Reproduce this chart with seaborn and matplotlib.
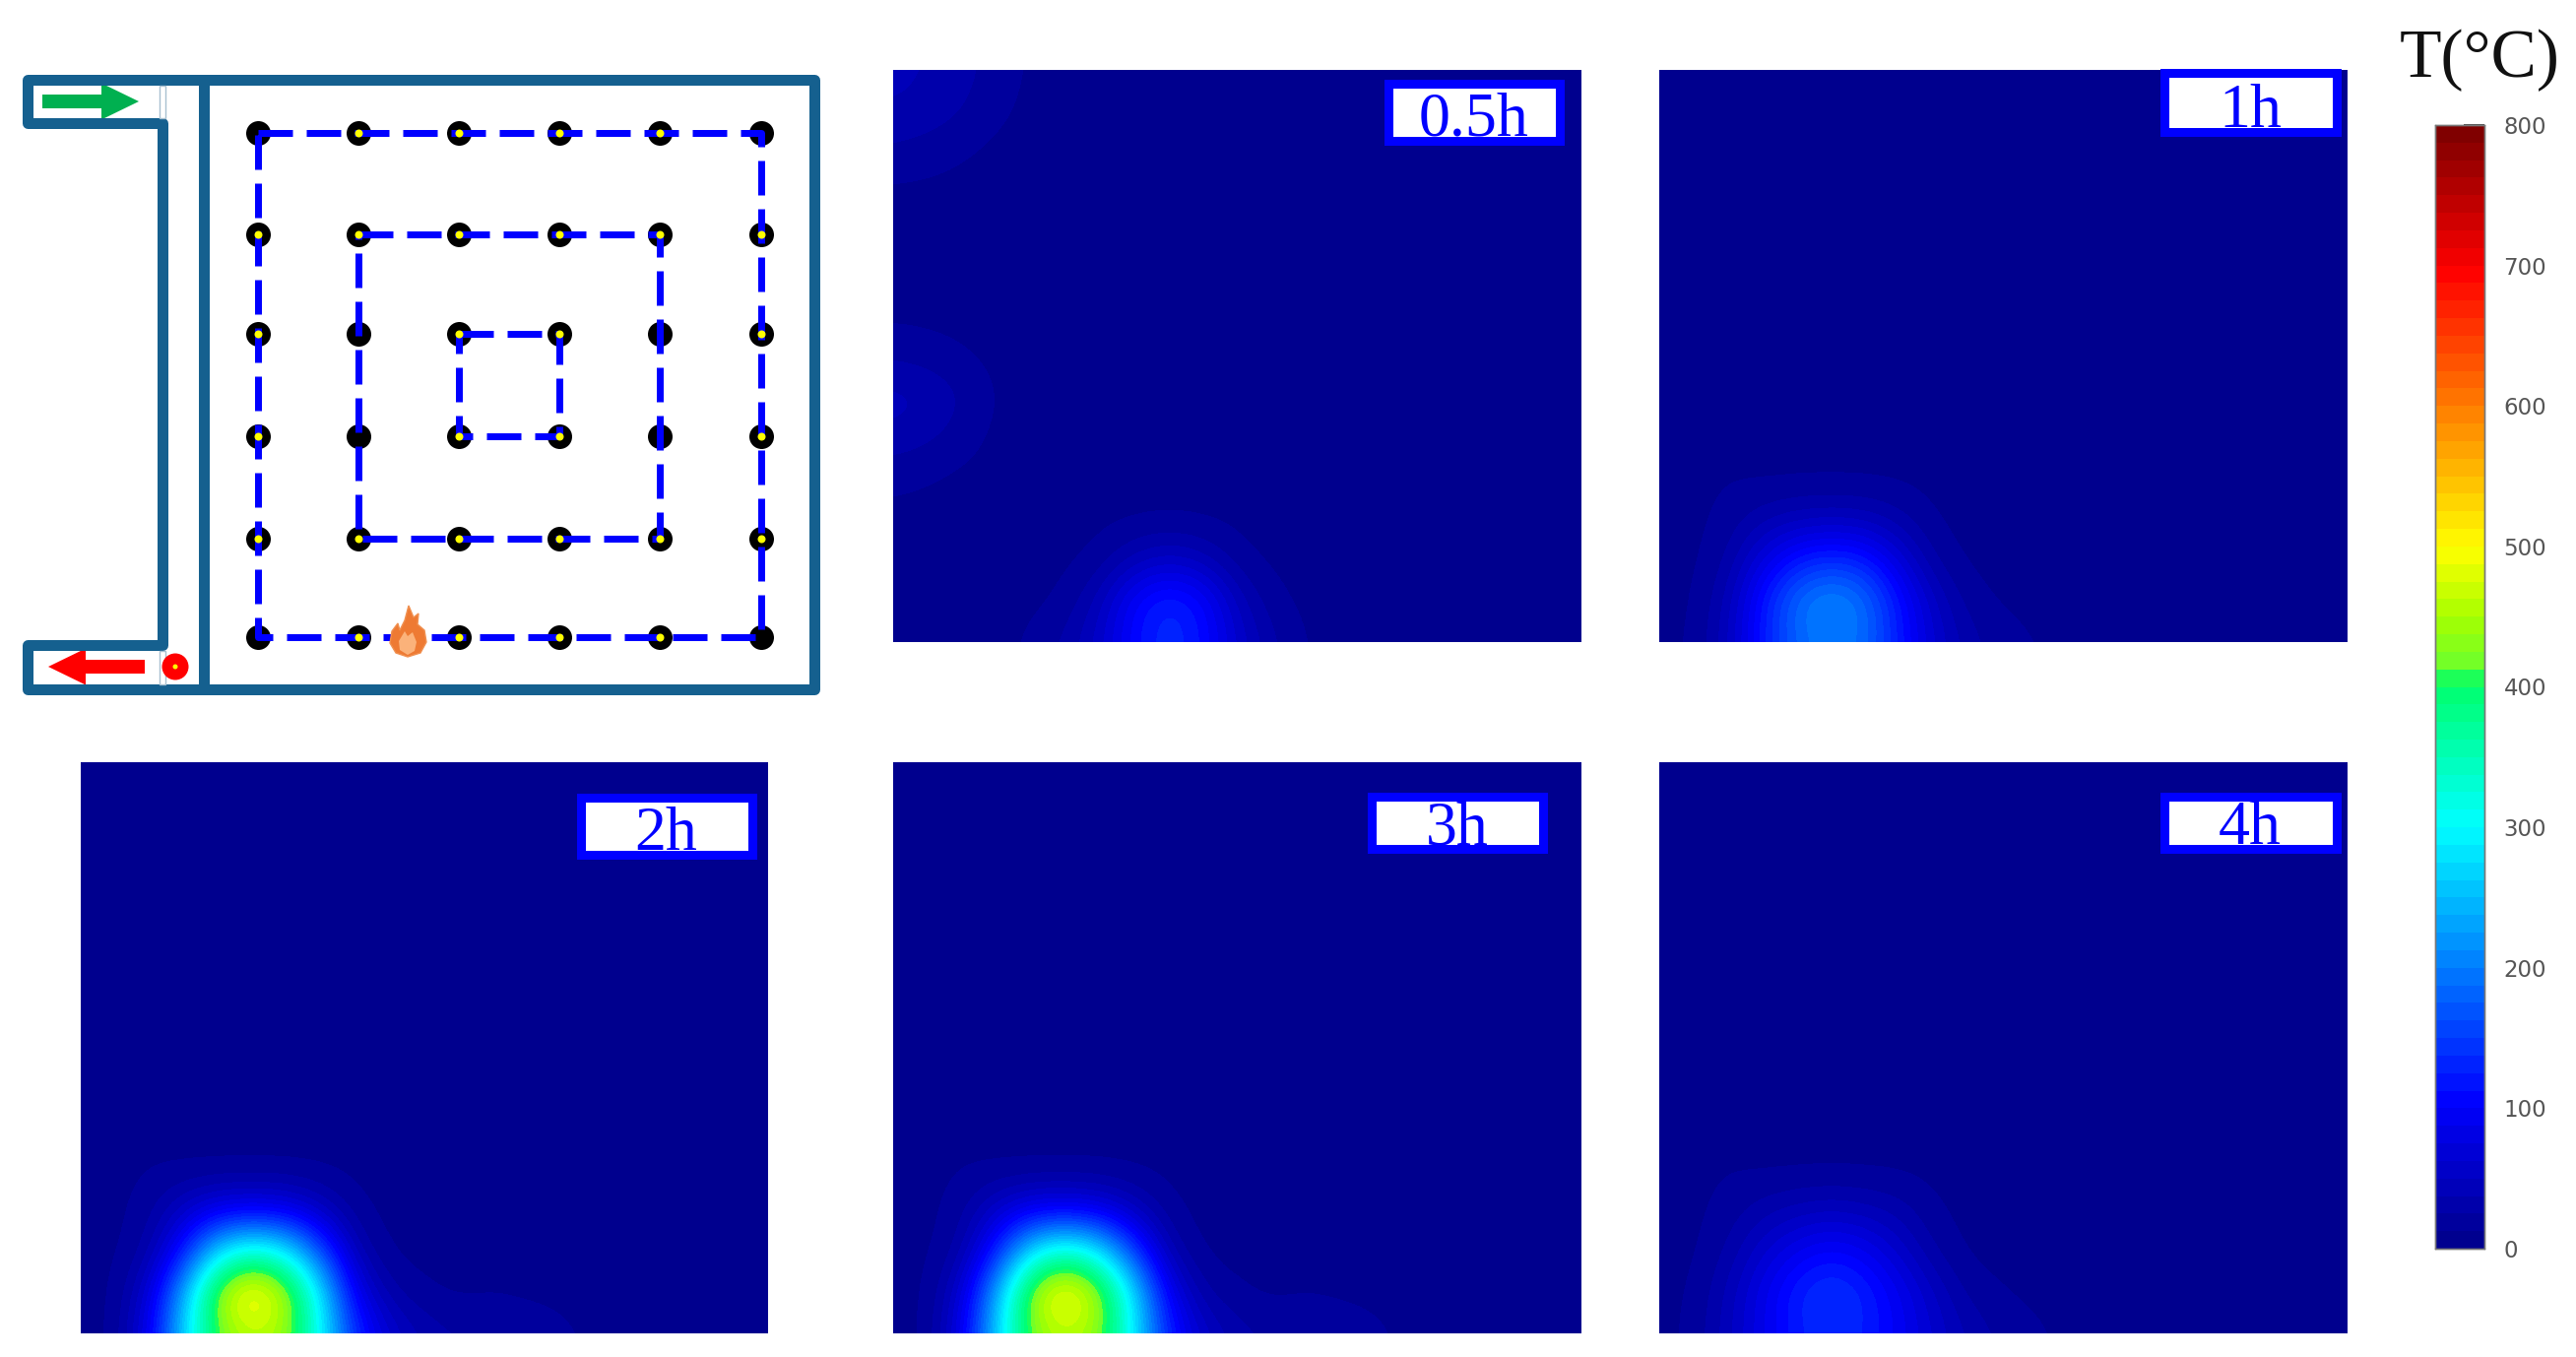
import numpy as np
import pandas as pd
import matplotlib
matplotlib.use("Agg")
import matplotlib.pyplot as plt
from matplotlib.colors import LinearSegmentedColormap
from matplotlib.patches import Rectangle, Ellipse, Polygon, FancyArrow
import seaborn as sns

W, H = 2616, 1378

# temperature, rows go from the bottom edge upwards, columns from the left
BACKGROUND = 9
rows_05h = [
    [9, 9, 9, 9, 14, 28, 55, 110, 138, 115, 60, 28, 11],
    [9, 9, 9, 9, 9, 14, 42, 105, 135, 110, 45, 16, 9],
    [9, 9, 9, 9, 9, 9, 15, 40, 55, 42, 16, 9, 9],
    [9, 9, 9, 9, 9, 9, 9, 9, 10, 9, 9, 9, 9],
]
# faint spots on the left side of the 0.5h panel, rows go from the top edge downwards
top_05h = [
    [40, 38, 30, 20, 10],
    [38, 34, 26, 15, 9],
    [22, 18, 13, 9, 9],
    [9, 9, 9, 9, 9],
    [9, 9, 9, 9, 9],
    [9, 9, 9, 9, 9],
    [9, 9, 9, 9, 9],
    [22, 18, 13, 9, 9],
    [45, 40, 26, 11, 9],
    [34, 28, 18, 9, 9],
    [15, 12, 9, 9, 9],
]
rows_1h = [
    [9, 12, 45, 120, 180, 200, 185, 120, 60, 30, 18, 12, 10],
    [9, 10, 38, 120, 190, 218, 190, 115, 50, 18, 10, 9, 9],
    [9, 9, 24, 75, 122, 140, 125, 70, 22, 9, 9, 9, 9],
    [9, 9, 16, 32, 42, 45, 42, 28, 11, 9, 9, 9, 9],
    [9, 9, 12, 9, 9, 9, 9, 9, 9, 9, 9, 9, 9],
]
rows_2h = [
    [9, 9, 85, 270, 420, 460, 440, 300, 135, 60, 35, 25, 25, 22, 15, 10],
    [9, 9, 62, 240, 455, 530, 460, 285, 85, 26, 13, 9, 11, 9, 9, 9],
    [9, 9, 25, 120, 280, 345, 295, 165, 35, 9, 9, 9, 9, 9, 9, 9],
    [9, 9, 18, 55, 86, 92, 85, 50, 14, 9, 9, 9, 9, 9, 9, 9],
    [9, 9, 12, 10, 9, 9, 9, 9, 9, 9, 9, 9, 9, 9, 9, 9],
]
rows_3h = [
    [9, 9, 80, 265, 425, 458, 435, 290, 128, 55, 32, 22, 25, 22, 15, 10],
    [9, 9, 60, 235, 452, 525, 455, 280, 90, 24, 13, 9, 11, 9, 9, 9],
    [9, 9, 25, 125, 285, 350, 290, 155, 33, 9, 9, 9, 9, 9, 9, 9],
    [9, 9, 18, 58, 90, 95, 85, 48, 14, 9, 9, 9, 9, 9, 9, 9],
    [9, 9, 12, 10, 9, 9, 9, 9, 9, 9, 9, 9, 9, 9, 9, 9],
]
rows_4h = [
    [9, 14, 45, 85, 122, 138, 125, 95, 60, 35, 22, 14, 10],
    [9, 12, 40, 85, 128, 148, 128, 90, 50, 20, 12, 9, 9],
    [9, 9, 26, 60, 90, 108, 92, 58, 24, 9, 9, 9, 9],
    [9, 9, 17, 32, 42, 48, 42, 32, 13, 9, 9, 9, 9],
    [9, 9, 12, 9, 9, 9, 9, 9, 9, 9, 9, 9, 9],
]

panel_labels = ["0.5h", "1h", "2h", "3h", "4h"]
# pixel boxes: left, top, right, bottom
panel_boxes = [(907, 71, 1606, 652), (1685, 71, 2384, 652), (82, 774, 780, 1354),
               (907, 774, 1606, 1354), (1685, 774, 2384, 1354)]
label_boxes = [(1405, 80, 1588, 147), (2193, 69, 2377, 138), (585, 805, 768, 872),
               (1388, 804, 1571, 866), (2193, 804, 2377, 866)]
cbar_ticks = [0, 100, 200, 300, 400, 500, 600, 700, 800]

# colour scale stops
cmap_values = [0, 100, 300, 405, 410, 450, 500, 600, 700, 800]
cmap_colors = [(0, 0, 0.56), (0, 0, 1), (0, 1, 1), (0, 1, 0.4), (0.4, 1, 0.2), (0.65, 1, 0),
               (1, 1, 0), (1, 0.5, 0), (1, 0, 0), (0.5, 0, 0)]

# sensor layout of the schematic
sensor_x = [262, 364, 466, 568, 670, 773]
sensor_y = [135, 238, 339, 443, 547, 647]
no_yellow = [(1, 2), (1, 3), (4, 2), (4, 3)]
rings = [(0, 5), (1, 4), (2, 3)]

WALL = "#15608f"


def px(v):
    # pixels to points at dpi 100
    return v * 0.72


def make_grid(rows, top_rows=None):
    grid = np.full((15, 21), float(BACKGROUND))
    for i, row in enumerate(rows):
        grid[14 - i, :len(row)] = row
    if top_rows is not None:
        for i, row in enumerate(top_rows):
            grid[i, :len(row)] = row
    return pd.DataFrame(grid)


def add_axes_px(fig, box):
    l, t, r, b = box
    return fig.add_axes([l / W, 1 - b / H, (r - l) / W, (b - t) / H])


sns.set_theme(style="white")
plt.rcParams["font.family"] = ["Liberation Serif", "DejaVu Sans"]

# 64 steps, like the bands in the colour bar
heat_cmap = LinearSegmentedColormap.from_list(
    "heat", [(v / 800, c) for v, c in zip(cmap_values, cmap_colors)], N=64)

fig = plt.figure(figsize=(W / 100, H / 100), dpi=100, facecolor="white")

grids = [make_grid(rows_05h, top_05h), make_grid(rows_1h), make_grid(rows_2h),
         make_grid(rows_3h), make_grid(rows_4h)]

cax = add_axes_px(fig, (2473, 127, 2523, 1268))
for i, grid in enumerate(grids):
    ax = add_axes_px(fig, panel_boxes[i])
    first = i == 0
    sns.heatmap(grid, ax=ax, cmap=heat_cmap, vmin=0, vmax=800, xticklabels=False, yticklabels=False,
                shading="gouraud", cbar=first, cbar_ax=cax if first else None,
                cbar_kws={"ticks": cbar_ticks} if first else None)
    # smooth the same grid on top, colours stay on the scale this way
    ax.imshow(grid.values, cmap=heat_cmap, vmin=0, vmax=800, interpolation="bicubic",
              interpolation_stage="data", aspect="auto", zorder=2)
    ax.set_xlim(0, grid.shape[1] - 1)
    ax.set_ylim(grid.shape[0] - 1, 0)
    ax.set_axis_off()

# colourbar look
cax.tick_params(axis="y", direction="in", length=15, width=1.4, color="#444444", right=True,
                labelsize=16.5, labelcolor="#555555", pad=14)
for lab in cax.get_yticklabels():
    lab.set_family("DejaVu Sans")
for sp in cax.spines.values():
    sp.set_visible(True)
    sp.set_color("#777777")
    sp.set_linewidth(1)

# overlay in pixel coordinates for the schematic and the labels
ov = fig.add_axes([0, 0, 1, 1], facecolor="none")
ov.set_xlim(0, W)
ov.set_ylim(H, 0)
ov.set_axis_off()

# labels on the panels
for label, (l, t, r, b) in zip(panel_labels, label_boxes):
    ov.add_patch(Rectangle((l + 4.5, t + 4.5), r - l - 9, b - t - 9, facecolor="white",
                           edgecolor="#0000ff", linewidth=px(9)))
    ov.text((l + r) / 2, b - 9, label, color="#0000ff", fontsize=46, ha="center", va="baseline")

ov.text(2518, 78, "T(°C)", color="#111111", fontsize=50, ha="center", va="baseline")

# building walls
wall_kw = dict(color=WALL, lw=px(11), solid_joinstyle="round", solid_capstyle="round")
ov.plot([207, 827, 827, 207, 207], [81, 81, 700, 700, 81], **wall_kw)
ov.plot([207, 28, 28, 165, 165, 28, 28, 207], [81, 81, 125, 125, 655, 655, 700, 700], **wall_kw)
# slits between the stubs and the corridor
for y0, y1 in [(87, 120), (661, 695)]:
    ov.add_patch(Rectangle((162, y0), 6, y1 - y0, facecolor="white", edgecolor="#a8c0d0",
                           linewidth=1, zorder=2.5))

# sensors
xx, yy = np.meshgrid(sensor_x, sensor_y)
sns.scatterplot(x=xx.ravel(), y=yy.ravel(), ax=ov, s=px(25) ** 2, color="black", linewidth=0, zorder=3)

for a, b in rings:
    xs = [sensor_x[a], sensor_x[b], sensor_x[b], sensor_x[a], sensor_x[a]]
    ys = [sensor_y[a], sensor_y[a], sensor_y[b], sensor_y[b], sensor_y[a]]
    ov.plot(xs, ys, color="#0000ff", lw=px(7), dashes=(5, 2), zorder=4)

yellow = [(sensor_x[c], sensor_y[r]) for r in range(6) for c in range(6)
          if (c, r) not in no_yellow and not (c in (0, 5) and r in (0, 5))]
sns.scatterplot(x=[p[0] for p in yellow], y=[p[1] for p in yellow], ax=ov, s=px(8) ** 2,
                color="#ffff00", linewidth=0, zorder=5)

# inlet and outlet arrows
ov.add_patch(FancyArrow(43, 103, 98, 0, width=14, head_width=37, head_length=38,
                        length_includes_head=True, color="#00b050", linewidth=0))
ov.add_patch(FancyArrow(147, 677, -98, 0, width=14, head_width=37, head_length=38,
                        length_includes_head=True, color="#ff0000", linewidth=0))
ov.add_patch(Ellipse((178, 677), 27, 27, color="#ff0000", linewidth=0, zorder=3))
ov.add_patch(Ellipse((178, 677), 5, 5, color="#ffff00", linewidth=0, zorder=3.5))

# fire
flame = [(414, 667), (402, 663), (396, 653), (398, 641), (404, 633), (406, 640), (411, 630),
         (415, 615), (420, 627), (425, 623), (424, 634), (431, 640), (433, 652), (427, 663)]
flame_core = [(414, 665), (406, 660), (405, 651), (411, 641), (414, 646), (419, 642), (423, 652), (421, 661)]
ov.add_patch(Polygon(flame, closed=True, facecolor="#ee7a33", edgecolor="#f09050", linewidth=1, zorder=6))
ov.add_patch(Polygon(flame_core, closed=True, facecolor="#fbb27a", edgecolor="none", zorder=7))

fig.savefig("out.png", dpi=100, facecolor="white")
